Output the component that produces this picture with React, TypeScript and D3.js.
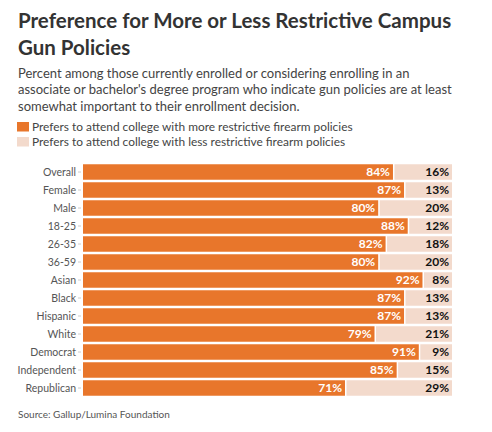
import React from "react";
import * as d3 from "d3";

const categories = ["Overall","Female","Male","18-25","26-35","36-59","Asian","Black","Hispanic","White","Democrat","Independent","Republican"];
const moreRestrictive = [84,87,80,88,82,80,92,87,87,79,91,85,71];
const lessRestrictive = [16,13,20,12,18,20,8,13,13,21,9,15,29];
const seriesNames = ["Prefers to attend college with more restrictive firearm policies","Prefers to attend college with less restrictive firearm policies"];

const W = 492, H = 432;
const ORANGE = "#E8762B";
const LIGHT = "#F3DACC";
const FONT = "Lato, sans-serif";

export default function App() {
  const x = d3.scaleLinear().domain([0, 100]).range([83, 452]);
  const y = d3.scaleBand().domain(categories).range([163, 397]).paddingInner(0.14).paddingOuter(0.07);
  const bh = y.bandwidth();
  return (
    <svg width={W} height={H} style={{ position: "absolute", left: 0, top: 0, background: "#fff" }} fontFamily={FONT}>
      <text x={18} y={28} fontSize={20.5} fontWeight={700} fill="#333">Preference for More or Less Restrictive Campus</text>
      <text x={18} y={55} fontSize={20.5} fontWeight={700} fill="#333">Gun Policies</text>
      {["Percent among those currently enrolled or considering enrolling in an","associate or bachelor's degree program who indicate gun policies are at least","somewhat important to their enrollment decision."].map((t, i) => (
        <text key={i} x={18} y={78 + i * 16.3} fontSize={13} fill="#444">{t}</text>
      ))}
      {seriesNames.map((s, i) => (
        <g key={s}>
          <rect x={17} y={122 + i * 15} width={12} height={9.5} fill={i === 0 ? ORANGE : LIGHT} />
          <text x={32} y={131 + i * 15} fontSize={11.9} fill="#444">{s}</text>
        </g>
      ))}
      {categories.map((c, i) => {
        const y0 = y(c)!;
        const xm = x(moreRestrictive[i]);
        return (
          <g key={c}>
            <text x={76} y={y0 + bh / 2} dy="0.35em" textAnchor="end" fontSize={10.5} fill="#555">{c}</text>
            <line x1={78} x2={81} y1={y0 + bh / 2} y2={y0 + bh / 2} stroke="#ccc" />
            <rect x={x(0)} y={y0} width={xm - x(0)} height={bh} fill={ORANGE} />
            <rect x={xm + 1.5} y={y0} width={x(100) - xm - 1.5} height={bh} fill={LIGHT} />
            <text x={xm - 3} y={y0 + bh / 2} dy="0.36em" textAnchor="end" fontSize={12} fontWeight={700} fill="#fff">{moreRestrictive[i]}%</text>
            <text x={x(100) - 3} y={y0 + bh / 2} dy="0.36em" textAnchor="end" fontSize={12} fontWeight={700} fill="#111">{lessRestrictive[i]}%</text>
          </g>
        );
      })}
      <text x={18} y={418} fontSize={10} fill="#555">Source: Gallup/Lumina Foundation</text>
    </svg>
  );
}
